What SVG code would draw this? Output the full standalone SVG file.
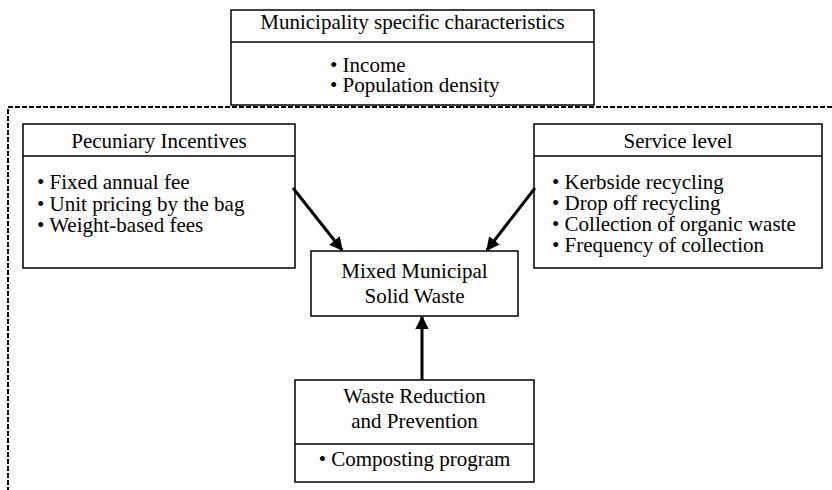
<svg xmlns="http://www.w3.org/2000/svg" width="832" height="490" viewBox="0 0 832 490">
<style>
text{font-family:"Liberation Serif","Times New Roman",serif;font-size:21px;fill:#000}
.c{text-anchor:middle}
.box{fill:#fff;stroke:#000;stroke-width:1.5}
.div{stroke:#000;stroke-width:1.5}
.arr{stroke:#000;stroke-width:3;fill:none;marker-end:url(#ah)}
</style>
<defs>
<marker id="ah" viewBox="0 0 10 10" refX="9" refY="5" markerWidth="4.5" markerHeight="4.5" markerUnits="strokeWidth" orient="auto">
<path d="M0,0 L10,5 L0,10 Z" fill="#000"/>
</marker>
</defs>
<path id="boundary" d="M832,107 H8 V490" fill="none" stroke="#000" stroke-width="2" stroke-dasharray="5,2"/>
<g id="municipality">
<rect class="box" x="231" y="10" width="363" height="95"/>
<line class="div" x1="231" y1="42" x2="594" y2="42"/>
<text class="c" x="412.5" y="29">Municipality specific characteristics</text>
<text><tspan x="330" y="72">• Income</tspan><tspan x="330" y="92">• Population density</tspan></text>
</g>
<g id="pecuniary">
<rect class="box" x="23" y="124" width="272" height="144"/>
<line class="div" x1="23" y1="156" x2="295" y2="156"/>
<text class="c" x="159" y="148">Pecuniary Incentives</text>
<text><tspan x="37" y="189">• Fixed annual fee</tspan><tspan x="37" y="210.5">• Unit pricing by the bag</tspan><tspan x="37" y="231.5">• Weight-based fees</tspan></text>
</g>
<g id="service">
<rect class="box" x="534" y="124" width="288" height="144"/>
<line class="div" x1="534" y1="156" x2="822" y2="156"/>
<text class="c" x="678" y="148">Service level</text>
<text><tspan x="552" y="189">• Kerbside recycling</tspan><tspan x="552" y="210">• Drop off recycling</tspan><tspan x="552" y="231">• Collection of organic waste</tspan><tspan x="552" y="252">• Frequency of collection</tspan></text>
</g>
<g id="mixed">
<rect class="box" x="311" y="251" width="207" height="65"/>
<text class="c" x="414.5" y="278">Mixed Municipal</text>
<text class="c" x="414.5" y="303">Solid Waste</text>
</g>
<g id="reduction">
<rect class="box" x="295" y="380" width="239" height="102"/>
<line class="div" x1="295" y1="444" x2="534" y2="444"/>
<text class="c" x="414.5" y="403">Waste Reduction</text>
<text class="c" x="414.5" y="428">and Prevention</text>
<text class="c" x="414.5" y="466">• Composting program</text>
</g>
<g id="connectors">
<line class="arr" x1="293" y1="188" x2="342" y2="250"/>
<line class="arr" x1="535" y1="188" x2="487" y2="250"/>
<line class="arr" x1="422" y1="380" x2="422" y2="317"/>
</g>
</svg>
